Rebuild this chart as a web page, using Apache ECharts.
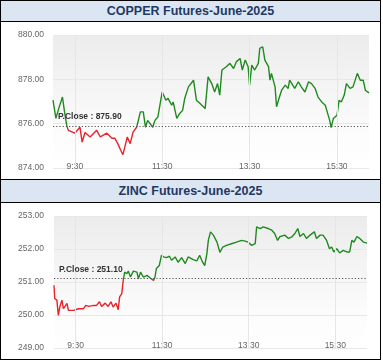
<!DOCTYPE html>
<html>
<head>
<meta charset="utf-8">
<script src="https://cdn.jsdelivr.net/npm/echarts@6/dist/echarts.min.js"></script>
<style>
  html, body { margin: 0; padding: 0; background: #ffffff; }
  #chart { position: absolute; left: 0; top: 0; width: 383px; height: 362px; }
  .frame { position: absolute; left: 0; top: 0; width: 379px; height: 358px; border: 1px solid #000; pointer-events: none; }
  .title { position: absolute; left: 1px; width: 379px; background: #dce6f2; color: #1f3864;
           font-family: "Liberation Sans", Arial, sans-serif; font-weight: bold; font-size: 12.5px;
           text-align: center; pointer-events: none; box-sizing: border-box; }
  #t1 { top: 1px; height: 21px; line-height: 20px; border-bottom: 1px solid #000; }
  #t2 { top: 179px; height: 24px; line-height: 22px; border-top: 1px solid #000; border-bottom: 1px solid #000; }
</style>
</head>
<body>
<div id="chart"></div>
<div class="frame"></div>
<div class="title" id="t1">COPPER Futures-June-2025</div>
<div class="title" id="t2">ZINC Futures-June-2025</div>
<script>
// ---------- DATA ----------
var copperTitle = "COPPER Futures-June-2025";
var zincTitle = "ZINC Futures-June-2025";
var copperPrevClose = 875.90;
var zincPrevClose = 251.10;
var xTickLabels = ["9:30", "11:30", "13:30", "15:30"];
var copperYTicks = [874, 876, 878, 880];
var zincYTicks = [249, 250, 251, 252, 253];

var copperTimes = ["9:00","9:04","9:08","9:13","9:16","9:19","9:21","9:30","9:37","9:40","9:44","9:51",
  "10:00","10:05","10:14","10:21","10:25","10:29","10:33","10:36","10:39","10:42","10:46","10:50","10:55",
  "11:00","11:04","11:07","11:10","11:17","11:20","11:24","11:30","11:35","11:38","11:43","11:45","11:50","11:54","11:58",
  "12:01","12:06","12:08","12:13","12:17","12:22","12:29","12:33","12:38","12:42","12:46","12:49","12:52","12:58",
  "13:03","13:08","13:12","13:17","13:20","13:24","13:28","13:30","13:33","13:37","13:42","13:44","13:48","13:51","13:56","13:58",
  "14:00","14:05","14:07","14:11","14:14","14:19","14:23","14:25","14:28","14:32","14:37","14:41","14:46","14:51","14:55",
  "15:00","15:04","15:09","15:14","15:16","15:20","15:22","15:25","15:30","15:33","15:36","15:40","15:43","15:48","15:52","15:58",
  "16:02","16:06","16:09","16:14"];
var copperValues = [877.06,876.24,876.70,877.20,876.50,875.90,875.70,875.57,875.84,875.17,875.60,875.40,
  875.70,875.40,875.57,875.34,875.34,875.10,874.80,874.60,875.00,875.40,875.10,875.62,875.85,
  876.53,876.53,875.84,876.15,875.84,876.15,876.30,877.43,877.06,877.14,876.83,876.98,876.24,876.46,876.60,
  877.15,877.66,877.59,877.96,877.06,876.91,876.68,878.11,877.81,877.43,877.81,877.29,878.42,878.57,
  878.72,878.49,878.80,878.94,878.42,878.87,878.57,877.74,878.64,878.42,878.72,879.40,879.47,878.87,878.57,877.96,
  878.27,877.66,876.76,877.20,877.51,877.74,877.59,877.96,877.81,877.59,877.89,877.66,877.43,877.89,877.81,
  877.59,877.20,876.98,876.83,876.60,876.15,875.82,876.23,876.38,877.06,876.98,877.29,877.81,877.59,877.66,878.27,
  877.96,877.96,877.51,877.39];

var zincTimes = ["9:00","9:01","9:04","9:06","9:08","9:11","9:13","9:18","9:20","9:27","9:34","9:36","9:41","9:44","9:48","9:50","9:55","9:59",
  "10:03","10:06","10:11","10:15","10:19","10:22","10:26","10:29","10:31","10:34","10:36","10:38","10:41","10:43","10:46","10:50","10:55","10:57",
  "11:00","11:04","11:09","11:13","11:18","11:20","11:22","11:26","11:29","11:32","11:36","11:40","11:43","11:48","11:52","11:57",
  "12:02","12:06","12:13","12:18","12:22","12:26","12:29","12:32","12:34","12:37","12:41","12:46","12:50","12:54","12:59",
  "13:06","13:13","13:20","13:25","13:29","13:34","13:39","13:41","13:46","13:50","13:57",
  "14:02","14:06","14:10","14:13","14:20","14:25","14:30","14:34","14:38","14:41","14:46","14:50","14:55",
  "15:01","15:04","15:09","15:13","15:18","15:22","15:25","15:28","15:32","15:36","15:41","15:46","15:50","15:53","15:56",
  "16:00","16:04","16:09","16:14"];
var zincValues = [250.90,250.50,250.45,249.99,250.24,250.45,250.19,250.35,250.14,250.14,250.19,250.24,250.19,250.29,250.26,250.32,250.29,250.29,
  250.40,250.26,250.36,250.26,250.40,250.24,250.36,250.16,250.55,250.65,251.05,251.30,251.25,251.33,251.15,251.33,251.30,251.10,
  251.30,251.15,251.20,251.13,251.05,251.15,251.41,251.50,251.81,251.76,251.74,251.78,251.66,251.76,251.60,251.74,
  251.56,251.76,251.68,251.64,251.81,251.60,251.50,251.86,252.26,252.52,252.42,252.21,251.90,252.06,252.11,
  252.16,252.21,252.26,252.24,252.21,252.11,252.16,252.67,252.62,252.67,252.62,
  252.57,252.47,252.26,252.37,252.42,252.32,252.37,252.47,252.62,252.38,252.47,252.32,252.42,
  252.52,252.32,252.42,252.42,252.26,252.01,252.06,251.91,252.01,251.88,251.96,251.91,251.91,252.26,252.21,
  252.38,252.32,252.21,252.18];

// ---------- BUILD ----------
var DAY_START = 9 * 60;
function toMin(s) { var p = s.split(":"); return (+p[0]) * 60 + (+p[1]) - DAY_START; }
function minToLabel(v) { var t = v + DAY_START; var h = Math.floor(t / 60), m = t % 60; return h + ":" + (m < 10 ? "0" + m : m); }
function pairs(times, vals) { return times.map(function (t, i) { return [toMin(t), vals[i]]; }); }
var tickMinutes = xTickLabels.map(toMin);

var GREEN = "#1f8a1f", RED = "#e8232a";
var FONT = "Liberation Sans, Arial, sans-serif";

function xAxisCfg(gridIndex, margin) {
  return {
    type: "value", gridIndex: gridIndex, min: 0, max: 434, interval: 30,
    axisLine: { show: false }, axisTick: { show: false }, splitLine: { show: false },
    axisLabel: {
      margin: margin, color: "#666", fontSize: 8.5, fontFamily: FONT,
      showMinLabel: false, showMaxLabel: false,
      formatter: function (v) { return xTickLabels.indexOf(minToLabel(v)) >= 0 ? minToLabel(v) : ""; }
    }
  };
}
function yAxisCfg(gridIndex, ticks, margin) {
  return {
    type: "value", gridIndex: gridIndex, min: ticks[0], max: ticks[ticks.length - 1],
    interval: ticks[1] - ticks[0],
    axisLine: { show: false }, axisTick: { show: false },
    splitLine: { show: true, lineStyle: { color: "#e8e8e8", width: 1 } },
    axisLabel: { margin: margin, color: "#666", fontSize: 8.5, fontFamily: FONT,
                 formatter: function (v) { return v.toFixed(2); } }
  };
}
var bgGrad = new echarts.graphic.LinearGradient(0, 0, 0, 1, [
  { offset: 0, color: "#ececec" }, { offset: 0.75, color: "#fcfcfc" }, { offset: 1, color: "#ffffff" }
]);
// Colour split at previous close: gradient over the line's own value range (top = max, bottom = min)
function splitGradient(vals, pc) {
  var mx = Math.max.apply(null, vals), mn = Math.min.apply(null, vals);
  var off = (mx - pc) / (mx - mn);
  off = Math.max(0, Math.min(1, off));
  return new echarts.graphic.LinearGradient(0, 0, 0, 1, [
    { offset: 0, color: GREEN }, { offset: off, color: GREEN },
    { offset: off, color: RED }, { offset: 1, color: RED }
  ]);
}
function gridLinesSeries(idx, ticks) {
  return {
    type: "line", xAxisIndex: idx, yAxisIndex: idx, data: [[0, ticks[0]]], silent: true, z: 1,
    showSymbol: false, symbol: "none", lineStyle: { opacity: 0 }, animation: false,
    markLine: {
      silent: true, symbol: "none", animation: false, label: { show: false },
      lineStyle: { color: "#e6e6e6", width: 1, type: "solid" },
      data: tickMinutes.map(function (m) { return { xAxis: m }; })
    }
  };
}
function priceSeries(idx, times, vals, pc) {
  return {
    type: "line", xAxisIndex: idx, yAxisIndex: idx, data: pairs(times, vals),
    showSymbol: false, symbol: "none", animation: false, z: 3,
    lineStyle: { width: 1.4, color: splitGradient(vals, pc) },
    markLine: {
      silent: true, symbol: "none", animation: false,
      lineStyle: { color: "#555", width: 1, type: [1.2, 2] },
      label: { show: true, position: "insideStartTop", formatter: "P.Close : " + pc.toFixed(2),
               color: "#333", fontWeight: "bold", fontSize: 8.5, fontFamily: FONT },
      data: [{ yAxis: pc }]
    }
  };
}

var chart = echarts.init(document.getElementById("chart"), null, { renderer: "canvas" });
chart.setOption({
  animation: false,
  backgroundColor: "transparent",
  grid: [
    { left: 53, top: 35, width: 316, height: 133, show: true, borderWidth: 0, backgroundColor: bgGrad },
    { left: 54, top: 216, width: 313, height: 132, show: true, borderWidth: 0, backgroundColor: bgGrad }
  ],
  xAxis: [xAxisCfg(0, -6), xAxisCfg(1, -7)],
  yAxis: [yAxisCfg(0, copperYTicks, 9), yAxisCfg(1, zincYTicks, 10)],
  series: [
    gridLinesSeries(0, copperYTicks),
    priceSeries(0, copperTimes, copperValues, copperPrevClose),
    gridLinesSeries(1, zincYTicks),
    priceSeries(1, zincTimes, zincValues, zincPrevClose)
  ]
});
</script>
</body>
</html>
